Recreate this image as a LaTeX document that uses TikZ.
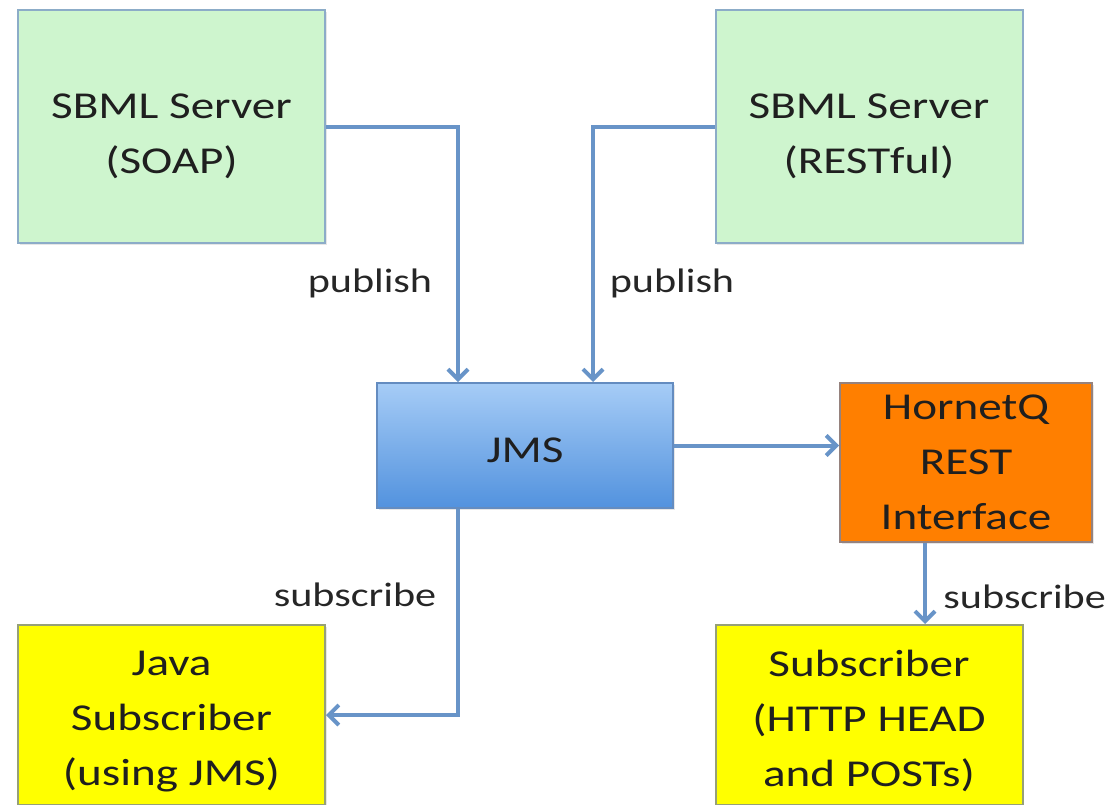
\documentclass[tikz,border=0pt]{standalone}
\usepackage{fontspec}
\setmainfont{Carlito}[FakeStretch=1.24]
\usetikzlibrary{positioning,arrows.meta,shadows}
\definecolor{linkblue}{RGB}{104,148,200}
\definecolor{servergreen}{RGB}{206,245,206}
\definecolor{serveredge}{RGB}{140,172,200}
\definecolor{jmstop}{RGB}{166,204,246}
\definecolor{jmsbottom}{RGB}{82,146,222}
\definecolor{jmsedge}{RGB}{100,140,192}
\definecolor{hornetorange}{RGB}{255,127,0}
\definecolor{hornetedge}{RGB}{150,130,125}
\definecolor{clientyellow}{RGB}{255,255,0}
\definecolor{clientedge}{RGB}{150,160,120}
\newcommand{\lowerby}[1]{\rule{0pt}{#1}}
\tikzset{
box/.style={
draw,
line width=1pt,
align=center,
font=\fontsize{19}{27.5}\selectfont,
text=black!88,
drop shadow={opacity=0.2,shadow xshift=0.8pt,shadow yshift=-1.2pt}
},
server/.style={
box,
fill=servergreen,
draw=serveredge,
minimum width=153.5pt,
minimum height=116.5pt
},
broker/.style={
box,
top color=jmstop,
bottom color=jmsbottom,
draw=jmsedge,
minimum width=148pt,
minimum height=62.5pt
},
bridge/.style={
box,
fill=hornetorange,
draw=hornetedge,
minimum width=126pt,
minimum height=79.5pt
},
client/.style={
box,
fill=clientyellow,
draw=clientedge,
minimum width=153.5pt,
minimum height=90pt
},
flow/.style={
-{Straight Barb[length=5pt,width=10pt]},
draw=linkblue,
line width=2pt
},
tag/.style={
inner sep=0pt,
font=\fontsize{17}{20}\selectfont,
text=black!85
}
}
\begin{document}
\begin{tikzpicture}[x=0.5pt,y=-0.5pt]
\useasboundingbox (0,0) rectangle (1111,804);

% boxes
\node[server](soap) at (171.5,126.5) {\lowerby{22.5pt}SBML Server\\(SOAP)};
\node[server](rest) at (869,126.5) {\lowerby{22.5pt}SBML Server\\(RESTful)};
\node[broker](jms) at (525,445.5) {\lowerby{17.3pt}JMS};
\node[bridge](hornet) at (966,462.5) {HornetQ\\REST\\Interface};
\node[client](java) at (171.5,715) {\lowerby{18.3pt}Java\\Subscriber\\(using JMS)};
\node[client](sub) at (869,715) {\lowerby{19.3pt}Subscriber\\(HTTP HEAD\\and POSTs)};

% connector labels
\node[tag,anchor=base](pubsoap) at (370,292) {publish};
\node[tag,anchor=base](pubrest) at (672,292) {publish};
\node[tag,anchor=base](subjava) at (355,606) {subscribe};
\node[tag,anchor=base west](subhttp) at (943,608) {subscribe};

% connectors
\draw[flow](soap.east) -| ([xshift=-33.5pt]jms.north);
\draw[flow](rest.west) -| ([xshift=34pt]jms.north);
\draw[flow](jms.east) -- (jms.east -| hornet.west);
\draw[flow]([xshift=-33.5pt]jms.south) |- (java.east);
\draw[flow]([xshift=-20.5pt]hornet.south) -- ([xshift=-20.5pt]hornet.south |- sub.north);

\end{tikzpicture}
\end{document}
